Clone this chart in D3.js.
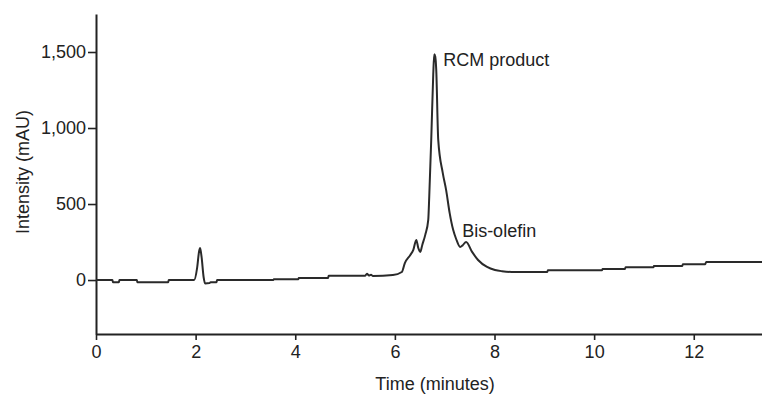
<!DOCTYPE html>
<html><head><meta charset="utf-8">
<script src="https://cdn.jsdelivr.net/npm/d3@7"></script>
<style>body{margin:0;background:#fff}svg{display:block}text{font-family:"Liberation Sans",Arial,sans-serif;fill:#222}</style>
</head><body>
<svg id="c" width="762" height="399"></svg>
<script>
const times = [0,0.33,0.34,0.46,0.47,0.82,0.83,1.45,1.46,1.97,2.03,2.07,2.09,2.12,2.16,2.19,2.28,2.30,2.42,2.43,3.56,3.57,4.06,4.07,4.66,4.67,5.40,5.44,5.48,5.52,5.56,5.96,6.14,6.20,6.31,6.37,6.43,6.47,6.51,6.55,6.61,6.67,6.69,6.73,6.77,6.79,6.81,6.83,6.87,6.96,7.03,7.10,7.17,7.23,7.31,7.36,7.43,7.55,7.67,7.85,8.01,8.15,8.35,9.06,9.07,10.16,10.17,10.62,10.63,11.19,11.20,11.77,11.78,12.23,12.25,13.37];
const intensity = [0,0,-15,-15,0,0,-15,-15,0,0,80,190,211,150,20,-22,-20,-15,-15,0,0,5,5,13,13,28,28,42,30,35,26,33,53,112,165,198,264,211,185,231,297,396,550,924,1350,1485,1470,1386,924,706,590,440,330,270,218,228,251,185,132,86,66,58,53,53,64,64,73,73,84,84,92,92,104,104,119,119];
const xTicks = [0,2,4,6,8,10,12];
const yTicks = [0,500,1000,1500];
const labels = [{text:"RCM product", t:6.97, v:1406},{text:"Bis-olefin", t:7.35, v:284}];

const svg = d3.select("#c");
const x = d3.scaleLinear().domain([0,13.37]).range([96,762]);
const y = d3.scaleLinear().domain([-355,1750]).range([334,14]);
const FS = 18;

const gx = svg.append("g").attr("transform","translate(0,334)")
  .call(d3.axisBottom(x).tickValues(xTicks).tickSize(6).tickSizeOuter(0).tickPadding(5));
const gy = svg.append("g").attr("transform","translate(96,0)")
  .call(d3.axisLeft(y).tickValues(yTicks).tickSize(8).tickSizeOuter(0).tickPadding(2).tickFormat(d3.format(",")));
[gx,gy].forEach(g=>{
  g.select(".domain").attr("stroke","#222").attr("stroke-width",2);
  g.selectAll(".tick line").attr("stroke","#222").attr("stroke-width",1.6);
  g.selectAll(".tick text").attr("font-size",FS).attr("fill","#222").attr("font-family","Liberation Sans, Arial, sans-serif");
});

const line = d3.line().x((d,i)=>x(times[i])).y(d=>y(d)).curve(d3.curveMonotoneX);
svg.append("path").datum(intensity).attr("d",line).attr("fill","none")
  .attr("stroke","#2a2a2a").attr("stroke-width",2).attr("stroke-linejoin","round");

svg.append("text").attr("x",435).attr("y",390).attr("text-anchor","middle").attr("font-size",FS).text("Time (minutes)");
svg.append("text").attr("transform","translate(29,172) rotate(-90)").attr("text-anchor","middle").attr("font-size",FS).text("Intensity (mAU)");

svg.selectAll(".lbl").data(labels).enter().append("text").attr("class","lbl")
  .attr("x",d=>x(d.t)).attr("y",d=>y(d.v)).attr("font-size",FS).text(d=>d.text);
</script>
</body></html>
